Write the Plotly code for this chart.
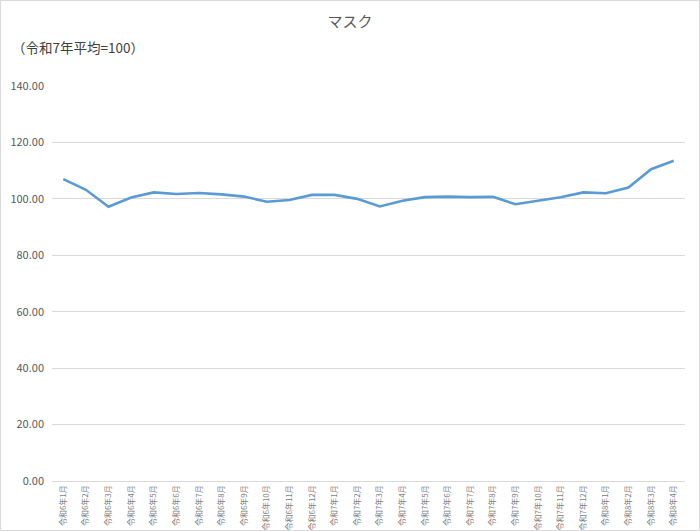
import plotly.graph_objects as go

# months 令和6年1月 .. 令和8年4月
months = (
    [f"令和6年{m}月" for m in range(1, 13)]
    + [f"令和7年{m}月" for m in range(1, 13)]
    + [f"令和8年{m}月" for m in range(1, 5)]
)

# index values (令和7年平均=100)
mask_index = [
    107.0, 103.2, 97.2, 100.5, 102.3, 101.7, 102.1, 101.6, 100.8, 99.0, 99.6, 101.4,
    101.4, 100.0, 97.3, 99.3, 100.6, 100.8, 100.6, 100.7, 98.1, 99.3, 100.6, 102.3,
    102.0, 104.0, 110.5, 113.5,
]

y_ticks = [0, 20, 40, 60, 80, 100, 120, 140]

font_name = "Noto Sans CJK JP"

fig = go.Figure()
fig.add_trace(go.Scatter(
    x=months, y=mask_index, mode="lines",
    line=dict(color="#5B9BD5", width=2.6),
    showlegend=False,
))

# plot area in pixels
L, R, T, B = 52, 15, 86, 50
pw = 700 - L - R
ph = 531 - T - B

fig.update_layout(
    width=700, height=531,
    margin=dict(l=L, r=R, t=T, b=B),
    paper_bgcolor="white", plot_bgcolor="white",
    font=dict(family=font_name, color="#595959"),
    title=dict(text="マスク", x=0.5, xanchor="center", y=1 - 22 / 531, yanchor="middle",
               font=dict(size=15, color="#595959", family=font_name)),
    annotations=[dict(
        text="（令和7年平均=100）", xref="paper", yref="paper",
        x=-L / pw + 10 / pw, y=1 + (T - 47) / ph, xanchor="left", yanchor="middle",
        showarrow=False, font=dict(size=13.5, color="#404040", family=font_name),
    )],
    shapes=[dict(
        type="rect", xref="paper", yref="paper",
        x0=-(L - 0.5) / pw, x1=1 + (R - 0.5) / pw,
        y0=-(B - 0.5) / ph, y1=1 + (T - 0.5) / ph,
        line=dict(color="#D9D9D9", width=1), fillcolor="rgba(0,0,0,0)",
    )],
)

# half a category of room at each end, like the original
fig.update_xaxes(
    type="category", range=[-0.5, len(months) - 0.5],
    tickangle=-90, showgrid=False, automargin=False,
    tickfont=dict(size=8, color="#7F7F7F", family=font_name),
    showline=True, linecolor="#D9D9D9", linewidth=1, ticks="",
)
fig.update_yaxes(
    range=[0, 140], tickvals=y_ticks, tickformat=".2f", automargin=False,
    ticklabelstandoff=7,
    showgrid=True, gridcolor="#D9D9D9", gridwidth=1,
    zeroline=False, showline=False, ticks="",
    tickfont=dict(size=11, color="#595959", family=font_name),
)

# drop the page's default body margin so the chart sits at the window's corner
fig.write_html("out.html", config={"displayModeBar": False},
               post_script="document.body.style.margin='0';")
